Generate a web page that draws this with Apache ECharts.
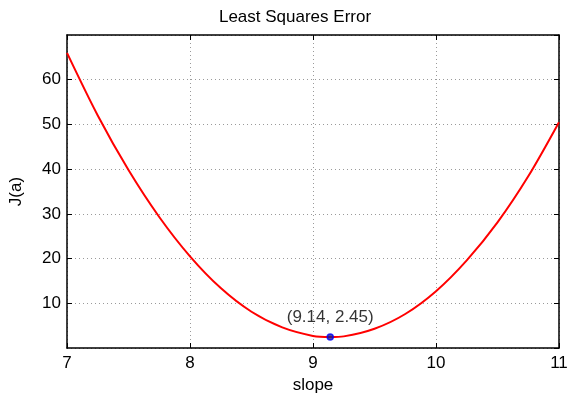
<!DOCTYPE html>
<html><head><meta charset="utf-8">
<script src="https://cdn.jsdelivr.net/npm/echarts@6/dist/echarts.min.js"></script>
<style>html,body{margin:0;padding:0;background:#fff}#c{width:567px;height:395px}</style>
</head><body><div id="c"></div>
<script>
var slopes = [7, 7.25, 7.5, 7.75, 8, 8.25, 8.5, 8.75, 9, 9.14, 9.25, 9.5, 9.75, 10, 10.25, 10.5, 10.75, 11];
var errors = [66.0, 52.0, 39.8, 29.3, 20.5, 13.4, 8.1, 4.6, 2.7, 2.45, 2.6, 4.3, 7.6, 12.7, 19.6, 28.1, 38.4, 50.5];
var minPoint = [9.14, 2.45];
var minLabel = '(9.14, 2.45)';
var xTicks = [7, 8, 9, 10, 11];
var yTicks = [10, 20, 30, 40, 50, 60];

var font = '"Liberation Sans", Arial, sans-serif';
var chart = echarts.init(document.getElementById('c'), null, {renderer: 'canvas'});
var lineData = slopes.map(function (s, i) { return [s, errors[i]]; });
var gridLine = {show: true, lineStyle: {color: '#9a9a9a', type: [1, 3], width: 1}};
var yLabelFmt = function (v) { return yTicks.indexOf(v) >= 0 ? String(v) : ''; };
var xLabelFmt = function (v) { return xTicks.indexOf(v) >= 0 ? String(v) : ''; };
chart.setOption({
  animation: false,
  title: {text: 'Least Squares Error', left: 290, top: 4, textAlign: 'center',
    textStyle: {fontFamily: font, fontSize: 17, fontWeight: 'normal', color: '#000'}},
  grid: {left: 67, right: 8, top: 35, bottom: 47, outerBoundsMode: 'none', containLabel: false},
  xAxis: [{
    type: 'value', min: 7, max: 11, interval: 1,
    name: 'slope', nameLocation: 'middle', nameGap: 27,
    nameTextStyle: {fontFamily: font, fontSize: 17, color: '#000'},
    axisLine: {show: true, onZero: false, lineStyle: {color: '#000', width: 1.5}},
    axisTick: {show: true, inside: true, length: 5, lineStyle: {color: '#000'}},
    axisLabel: {fontFamily: font, fontSize: 17, color: '#000', margin: 7, formatter: xLabelFmt},
    splitLine: gridLine
  }, {
    type: 'value', min: 7, max: 11, interval: 1, position: 'top',
    axisLine: {show: true, onZero: false, lineStyle: {color: '#000', width: 1.5}},
    axisTick: {show: true, inside: true, length: 5, lineStyle: {color: '#000'}},
    axisLabel: {show: false}, splitLine: {show: false}
  }],
  yAxis: [{
    type: 'value', min: 0, max: 70, interval: 10,
    name: 'J(a)', nameLocation: 'middle', nameGap: 42, nameRotate: 90,
    nameTextStyle: {fontFamily: font, fontSize: 17, color: '#000'},
    axisLine: {show: true, onZero: false, lineStyle: {color: '#000', width: 1.5}},
    axisTick: {show: true, inside: true, length: 5, lineStyle: {color: '#000'}},
    axisLabel: {fontFamily: font, fontSize: 17, color: '#000', margin: 6, formatter: yLabelFmt, showMinLabel: false, showMaxLabel: false},
    splitLine: gridLine
  }, {
    type: 'value', min: 0, max: 70, interval: 10, position: 'right',
    axisLine: {show: true, onZero: false, lineStyle: {color: '#000', width: 1.5}},
    axisTick: {show: true, inside: true, length: 5, lineStyle: {color: '#000'}},
    axisLabel: {show: false}, splitLine: {show: false}
  }],
  series: [{
    type: 'line', data: lineData, smooth: 0.3, showSymbol: false,
    lineStyle: {color: '#ff0000', width: 2}, z: 3
  }, {
    type: 'scatter', data: [minPoint], symbol: 'circle', symbolSize: 6,
    itemStyle: {color: '#1a1a8c', borderColor: '#0000ff', borderWidth: 1.5}, z: 4,
    label: {show: true, position: 'top', distance: 7, formatter: minLabel,
      fontFamily: font, fontSize: 17, color: '#000', textBorderWidth: 0}
  }]
});
</script></body></html>
